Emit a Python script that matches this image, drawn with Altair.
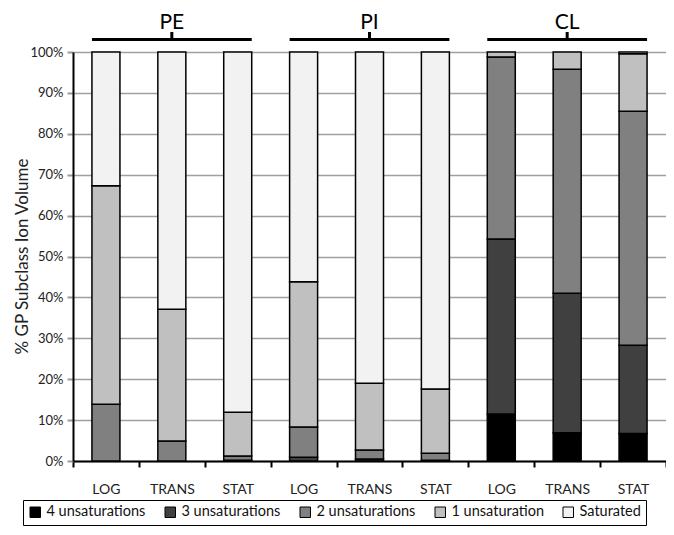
import altair as alt
import pandas as pd

groups = ["PE", "PI", "CL"]
phases = ["LOG", "TRANS", "STAT"]
series = ["4 unsaturations", "3 unsaturations", "2 unsaturations", "1 unsaturation", "Saturated"]
colors = ["#000000", "#404040", "#808080", "#c0c0c0", "#f2f2f2"]

# percent values, order: PE LOG, PE TRANS, PE STAT, PI LOG, PI TRANS, PI STAT, CL LOG, CL TRANS, CL STAT
four_unsat = [0, 0, 0, 0, 0, 0, 11.5, 6.9, 6.7]
three_unsat = [0, 0, 0.2, 0.9, 0.5, 0.2, 42.8, 34.1, 21.6]
two_unsat = [13.9, 4.9, 1.0, 7.4, 2.2, 1.7, 44.5, 54.8, 57.2]
one_unsat = [53.4, 32.2, 10.7, 35.5, 16.3, 15.7, 1.2, 4.2, 14.1]
saturated = [32.7, 62.9, 88.1, 56.2, 81.0, 82.4, 0, 0, 0.4]

keys = [f"{g} {p}" for g in groups for p in phases]
all_series = [four_unsat, three_unsat, two_unsat, one_unsat, saturated]

rows = []
for si, (name, vals) in enumerate(zip(series, all_series)):
    for k, v in zip(keys, vals):
        if v > 0:
            rows.append({"key": k, "series": name, "value": v / 100.0, "idx": si})
df = pd.DataFrame(rows)

hdf = pd.DataFrame({
    "name": groups,
    "start": [f"{g} LOG" for g in groups],
    "mid": [f"{g} TRANS" for g in groups],
    "end": [f"{g} STAT" for g in groups],
})

FONT = "Lato"
xscale = alt.Scale(domain=keys, paddingInner=0, paddingOuter=0)
xaxis = alt.Axis(title=None, labelExpr="split(datum.label, ' ')[1]",
                 tickBand="extent", tickSize=6, tickWidth=2, tickColor="black",
                 domainColor="black", domainWidth=2, labelAngle=0,
                 labelFontSize=14, labelFont=FONT, labelColor="#222",
                 labelPadding=15, grid=False)

bars = alt.Chart(df).mark_bar(width=28, stroke="black", strokeWidth=1.5).encode(
    x=alt.X("key:N", scale=xscale, sort=keys, axis=xaxis),
    y=alt.Y("value:Q", stack="zero", scale=alt.Scale(domain=[0, 1], nice=False),
            axis=alt.Axis(title="% GP Subclass Ion Volume", format=".0%",
                          values=[i / 10 for i in range(11)],
                          domainColor="black", domainWidth=2,
                          tickColor="#999999", tickWidth=2, tickSize=6,
                          gridColor="#a0a0a0", gridWidth=1.5,
                          labelFontSize=13, labelFont=FONT, labelColor="#222", labelPadding=4,
                          titleFontSize=17, titleFont=FONT, titleFontWeight="normal",
                          titleColor="#222", titleX=-51, titleY=204, titleBaseline="middle",
                          titleAlign="center", titleAngle=270)),
    color=alt.Color("series:N", scale=alt.Scale(domain=series, range=colors),
                    legend=alt.Legend(title=None, orient="none", legendX=-50, legendY=448,
                                      direction="horizontal", strokeColor="black",
                                      fillColor="white", padding=5, gridAlign="none",
                                      symbolType="square", symbolSize=110,
                                      symbolStrokeColor="black", symbolStrokeWidth=1,
                                      labelFontSize=14.5, labelFont=FONT, labelColor="#111",
                                      columnPadding=17, labelOffset=4)),
    order=alt.Order("idx:Q"),
)

line = alt.Chart(hdf).mark_rule(color="black", strokeWidth=3, xOffset=-14, x2Offset=14).encode(
    x=alt.X("start:N", scale=xscale, axis=xaxis),
    x2="end:N",
    y=alt.value(-12.5),
)

tick = alt.Chart(hdf).mark_rule(color="black", strokeWidth=3).encode(
    x=alt.X("mid:N", scale=xscale, axis=xaxis),
    y=alt.value(-20),
    y2=alt.value(-12.5),
)

label = alt.Chart(hdf).mark_text(fontSize=21, font=FONT, baseline="alphabetic", color="black").encode(
    x=alt.X("mid:N", scale=xscale, axis=xaxis),
    y=alt.value(-23),
    text="name:N",
)

chart = alt.layer(bars, line, tick, label).properties(
    width=593, height=409,
    autosize=alt.AutoSizeParams(type="none"),
    padding={"left": 65, "top": 44, "right": 0, "bottom": 66},
    background="white",
).configure_view(stroke=None)

chart.save("out.html", embed_options={"renderer": "svg", "actions": False})
